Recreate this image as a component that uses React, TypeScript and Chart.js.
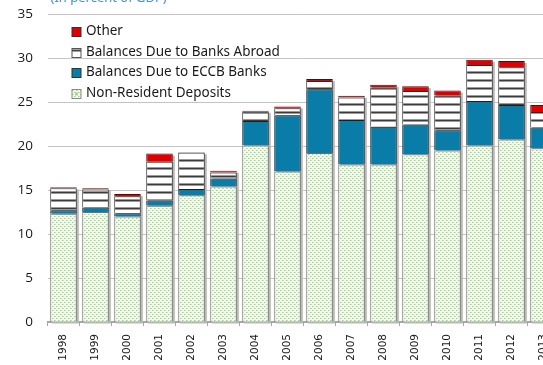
import React, { useEffect, useRef } from "react";
import { Chart, registerables } from "chart.js";

Chart.register(...registerables);

const years = ["1998", "1999", "2000", "2001", "2002", "2003", "2004", "2005", "2006", "2007", "2008", "2009", "2010", "2011", "2012", "2013"];
const nonResidentDeposits = [12.3, 12.5, 12.0, 13.2, 14.4, 15.4, 20.05, 17.1, 19.2, 17.9, 17.9, 19.05, 19.5, 20.05, 20.75, 19.75];
const balancesEccb = [0.4, 0.5, 0.35, 0.6, 0.7, 0.9, 2.8, 6.4, 7.25, 5.05, 4.3, 3.4, 2.3, 5.05, 3.9, 2.35];
const balancesAbroad = [2.5, 2.05, 1.95, 4.4, 4.15, 0.7, 1.1, 0.8, 0.95, 2.55, 4.45, 3.8, 3.95, 4.1, 4.3, 1.75];
const other = [0.1, 0.15, 0.25, 0.95, 0.05, 0.2, 0.05, 0.2, 0.2, 0.2, 0.3, 0.55, 0.55, 0.6, 0.7, 0.8];
const yTicks = [0, 5, 10, 15, 20, 25, 30, 35];
const titleText = "(In percent of GDP)";

const RED = "#e00000";
const BLUE = "#0a7ca8";

function makeStripe(): CanvasPattern | string {
  const c = document.createElement("canvas");
  c.width = 4;
  c.height = 8;
  const g = c.getContext("2d");
  if (!g) return "#ffffff";
  g.fillStyle = "#ffffff";
  g.fillRect(0, 0, 4, 8);
  g.fillStyle = "#9a9a9a";
  g.fillRect(0, 5, 4, 1);
  g.fillRect(0, 7, 4, 1);
  g.fillStyle = "#3c3c3c";
  g.fillRect(0, 6, 4, 1);
  return g.createPattern(c, "repeat") || "#ffffff";
}

function makeDots(): CanvasPattern | string {
  const c = document.createElement("canvas");
  c.width = 4;
  c.height = 4;
  const g = c.getContext("2d");
  if (!g) return "#eef7e8";
  g.fillStyle = "#f1f9ec";
  g.fillRect(0, 0, 4, 4);
  g.fillStyle = "#9ed286";
  g.fillRect(0, 0, 1, 1);
  g.fillRect(2, 2, 1, 1);
  g.fillStyle = "#c6e6b6";
  g.fillRect(1, 0, 1, 1);
  g.fillRect(3, 2, 1, 1);
  return g.createPattern(c, "repeat") || "#eef7e8";
}

export default function App() {
  const ref = useRef<HTMLCanvasElement | null>(null);

  useEffect(() => {
    if (!ref.current) return;
    const stripe = makeStripe();
    const dots = makeDots();

    const shadowPlugin = {
      id: "stackShadow",
      beforeDatasetsDraw(chart: any) {
        const ctx = chart.ctx;
        const metas = chart.data.datasets.map((_: any, i: number) => chart.getDatasetMeta(i));
        const n = chart.data.labels.length;
        ctx.save();
        ctx.fillStyle = "#b8b8b8";
        for (let k = 0; k < n; k++) {
          let top = Infinity;
          let base = -Infinity;
          let left = 0;
          let w = 0;
          metas.forEach((m: any) => {
            const el = m.data[k];
            if (!el) return;
            const p = el.getProps(["x", "y", "base", "width"], true);
            top = Math.min(top, p.y, p.base);
            base = Math.max(base, p.base, p.y);
            left = p.x - p.width / 2;
            w = p.width;
          });
          ctx.fillRect(left + 2, top + 2, w, base - top);
        }
        ctx.restore();
      },
    };

    const overlayPlugin = {
      id: "titleLegend",
      afterDraw(chart: any) {
        const ctx = chart.ctx;
        const area = chart.chartArea;
        ctx.save();
        ctx.font = "13px 'Noto Sans'";
        ctx.fillStyle = "#4a8fd4";
        ctx.textBaseline = "alphabetic";
        ctx.textAlign = "left";
        ctx.fillText(titleText, area.left + 3, 16);

        const ds = chart.data.datasets.slice().reverse();
        const x0 = area.left + 24.5;
        const yStart = area.top + 17.5;
        const step = 20.5;
        ds.forEach((d: any, i: number) => {
          const cy = yStart + i * step;
          const bx = x0;
          const by = Math.round(cy - 4.5) + 0.5;
          const s = 9;
          if (d.legendKind === "stripe") {
            ctx.fillStyle = "#ffffff";
            ctx.fillRect(bx, by, s, s);
            ctx.fillStyle = "#444444";
            ctx.fillRect(bx, by + 1, s, 2);
            ctx.strokeStyle = "#555555";
          } else if (d.legendKind === "dots") {
            ctx.fillStyle = dots;
            ctx.fillRect(bx, by, s, s);
            ctx.fillStyle = "#a9d893";
            ctx.fillRect(bx + 3, by + 3, 3, 3);
            ctx.strokeStyle = "#888888";
          } else {
            ctx.fillStyle = d.legendColor;
            ctx.fillRect(bx, by, s, s);
            ctx.strokeStyle = "#333333";
          }
          ctx.lineWidth = 1;
          ctx.strokeRect(bx, by, s, s);
          ctx.fillStyle = "#1a1a1a";
          ctx.textBaseline = "middle";
          ctx.font = "13.5px 'Noto Sans'";
          ctx.fillText(d.label, x0 + 14, cy);
        });
        ctx.restore();
      },
    };

    const chart = new Chart(ref.current, {
      type: "bar",
      data: {
        labels: years,
        datasets: [
          {
            label: "Non-Resident Deposits",
            data: nonResidentDeposits,
            backgroundColor: dots as any,
            borderColor: "#6e6e6e",
            borderWidth: 1,
            legendKind: "dots",
          } as any,
          {
            label: "Balances Due to ECCB Banks",
            data: balancesEccb,
            backgroundColor: BLUE,
            borderColor: "#1e1e1e",
            borderWidth: 1,
            legendKind: "solid",
            legendColor: BLUE,
          } as any,
          {
            label: "Balances Due to Banks Abroad",
            data: balancesAbroad,
            backgroundColor: stripe as any,
            borderColor: "#2a2a2a",
            borderWidth: 1,
            legendKind: "stripe",
          } as any,
          {
            label: "Other",
            data: other,
            backgroundColor: RED,
            borderColor: "#4a1010",
            borderWidth: 1,
            legendKind: "solid",
            legendColor: RED,
          } as any,
        ],
      },
      options: {
        responsive: false,
        animation: false,
        devicePixelRatio: 1,
        layout: { padding: { top: 28, right: 15.5, bottom: 0, left: 0 } },
        datasets: {
          bar: {
            categoryPercentage: 1,
            barPercentage: 0.83,
          },
        },
        plugins: {
          legend: { display: false },
          tooltip: { enabled: false },
          title: { display: false },
        },
        scales: {
          x: {
            stacked: true,
            grid: {
              drawOnChartArea: false,
              drawTicks: true,
              tickLength: 4,
              color: "#a6a6a6",
              offset: true,
            },
            border: { display: true, color: "#a6a6a6", width: 2 },
            ticks: {
              minRotation: 90,
              maxRotation: 90,
              autoSkip: false,
              padding: 8,
              color: "#1a1a1a",
              font: { family: "'DejaVu Sans'", size: 10.5 },
            },
            afterFit: (scale: any) => {
              scale.height = 43;
            },
          },
          y: {
            stacked: true,
            min: 0,
            max: 35,
            afterBuildTicks: (scale: any) => {
              scale.ticks = yTicks.map((v) => ({ value: v }));
            },
            grid: {
              color: "#c4c4c4",
              lineWidth: 1,
              drawTicks: false,
            },
            border: { display: false },
            ticks: {
              padding: 14.5,
              color: "#1a1a1a",
              font: { family: "'Open Sans'", size: 13.5 },
            },
            afterFit: (scale: any) => {
              scale.width = 47.5;
            },
          },
        },
      },
      plugins: [shadowPlugin, overlayPlugin],
    } as any);

    return () => chart.destroy();
  }, []);

  return (
    <div
      style={{
        position: "fixed",
        left: 0,
        top: 0,
        width: 543,
        height: 365,
        overflow: "hidden",
        background: "#ffffff",
      }}
    >
      <canvas
        ref={ref}
        width={575}
        height={379}
        style={{ position: "absolute", left: 0, top: -14, display: "block" }}
      />
    </div>
  );
}
